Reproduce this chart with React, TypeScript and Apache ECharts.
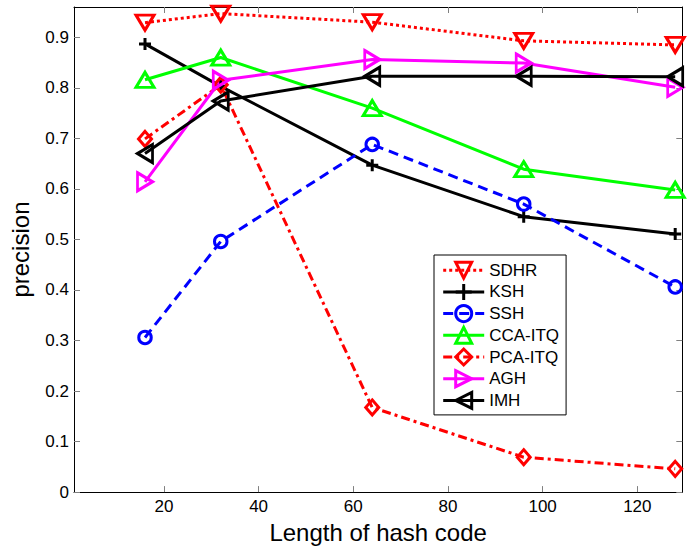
import React, { useEffect, useRef } from "react";
import * as echarts from "echarts";

const codeLengths = [16, 32, 64, 96, 128];
const sdhr = [0.929, 0.947, 0.930, 0.893, 0.885];
const ksh = [0.887, 0.803, 0.647, 0.545, 0.511];
const ssh = [0.306, 0.496, 0.688, 0.570, 0.406];
const ccaItq = [0.816, 0.860, 0.760, 0.639, 0.598];
const pcaItq = [0.699, 0.806, 0.1675, 0.069, 0.046];
const agh = [0.614, 0.815, 0.856, 0.849, 0.801];
const imh = [0.670, 0.774, 0.823, 0.823, 0.822];

const xTicks = [20, 40, 60, 80, 100, 120];
const yTicks = [0, 0.1, 0.2, 0.3, 0.4, 0.5, 0.6, 0.7, 0.8, 0.9];

const FONT = "'Liberation Sans', Arial, Helvetica, sans-serif";

const TRI_DOWN = "path://M0,0L10,0L5,8.66Z";
const TRI_UP = "path://M5,0L10,8.66L0,8.66Z";
const TRI_RIGHT = "path://M0,0L8.66,5L0,10Z";
const TRI_LEFT = "path://M8.66,0L8.66,10L0,5Z";
const PLUS = "path://M5,0L5,10M0,5L10,5";

function pairs(vals: number[]) {
  return codeLengths.map((x, i) => [x, vals[i]]);
}

function mkSeries(
  name: string,
  vals: number[],
  color: string,
  symbol: string,
  symbolSize: number | number[],
  dash: any
) {
  return {
    name,
    type: "line",
    data: pairs(vals),
    symbol,
    symbolSize,
    showSymbol: true,
    clip: false,
    lineStyle: { color, width: 3, type: dash, cap: "butt" },
    itemStyle: { color: "rgba(0,0,0,0)", borderColor: color, borderWidth: 3 },
    emphasis: { disabled: true },
  };
}

export default function App() {
  const ref = useRef<HTMLDivElement>(null);
  useEffect(() => {
    if (!ref.current) return;
    const chart = echarts.init(ref.current, null, { renderer: "svg" });
    const tickStyle = { show: true, inside: true, length: 6, lineStyle: { color: "#808080", width: 1 } };
    const option: any = {
      animation: false,
      backgroundColor: "#ffffff",
      textStyle: { fontFamily: FONT },
      grid: { left: 64.7, right: 8.7, top: 7, bottom: 53, containLabel: false },
      xAxis: [
        {
          type: "value",
          min: 1,
          max: 129.5,
          name: "Length of hash code",
          nameLocation: "middle",
          nameGap: 25,
          nameTextStyle: { fontSize: 24, color: "#000", fontFamily: FONT },
          axisLine: { show: true, lineStyle: { color: "#000", width: 1 } },
          axisTick: { ...tickStyle, customValues: xTicks },
          axisLabel: { customValues: xTicks, fontSize: 17, color: "#000", margin: 6, fontFamily: FONT },
          splitLine: { show: false },
        },
        {
          type: "value",
          position: "top",
          min: 1,
          max: 129.5,
          axisLine: { show: true, onZero: false, lineStyle: { color: "#000", width: 1 } },
          axisTick: { ...tickStyle, customValues: xTicks },
          axisLabel: { show: false },
          splitLine: { show: false },
        },
      ],
      yAxis: [
        {
          type: "value",
          min: 0,
          max: 0.96,
          name: "precision",
          nameLocation: "middle",
          nameGap: 42,
          nameRotate: 90,
          nameTextStyle: { fontSize: 24, color: "#000", fontFamily: FONT },
          axisLine: { show: true, lineStyle: { color: "#000", width: 1 } },
          axisTick: { ...tickStyle, customValues: yTicks },
          axisLabel: { customValues: yTicks, fontSize: 17, color: "#000", margin: 5, fontFamily: FONT },
          splitLine: { show: false },
        },
        {
          type: "value",
          position: "right",
          min: 0,
          max: 0.96,
          axisLine: { show: true, onZero: false, lineStyle: { color: "#000", width: 1 } },
          axisTick: { ...tickStyle, customValues: yTicks },
          axisLabel: { show: false },
          splitLine: { show: false },
        },
      ],
      legend: {
        orient: "vertical",
        left: 434,
        top: 255,
        padding: [5.7, 7, 5, 7.7],
        itemWidth: 41,
        itemHeight: 20,
        itemGap: 2.7,
        backgroundColor: "#ffffff",
        borderColor: "#000",
        borderWidth: 1,
        borderRadius: 0,
        lineStyle: { width: 3 },
        itemStyle: { borderWidth: 3 },
        textStyle: { fontSize: 17, color: "#000", fontFamily: FONT },
        selectedMode: false,
        z: 10,
        data: ["SDHR", "KSH", "SSH", "CCA-ITQ", "PCA-ITQ", "AGH", "IMH"],
      },
      series: [
        mkSeries("SDHR", sdhr, "#ff0000", TRI_DOWN, [18, 15], [3, 3]),
        mkSeries("KSH", ksh, "#000000", PLUS, [12, 12], "solid"),
        mkSeries("SSH", ssh, "#0000ff", "circle", 12.5, [10, 6]),
        mkSeries("CCA-ITQ", ccaItq, "#00ff00", TRI_UP, [18, 15], "solid"),
        mkSeries("PCA-ITQ", pcaItq, "#ff0000", "diamond", [13, 15], [9, 4, 3, 4]),
        mkSeries("AGH", agh, "#ff00ff", TRI_RIGHT, [15, 18], "solid"),
        mkSeries("IMH", imh, "#000000", TRI_LEFT, [15, 18], "solid"),
      ],
    };
    chart.setOption(option);
    return () => chart.dispose();
  }, []);
  return (
    <div
      ref={ref}
      style={{ position: "absolute", left: 0, top: 0, width: 691, height: 549 }}
    />
  );
}
